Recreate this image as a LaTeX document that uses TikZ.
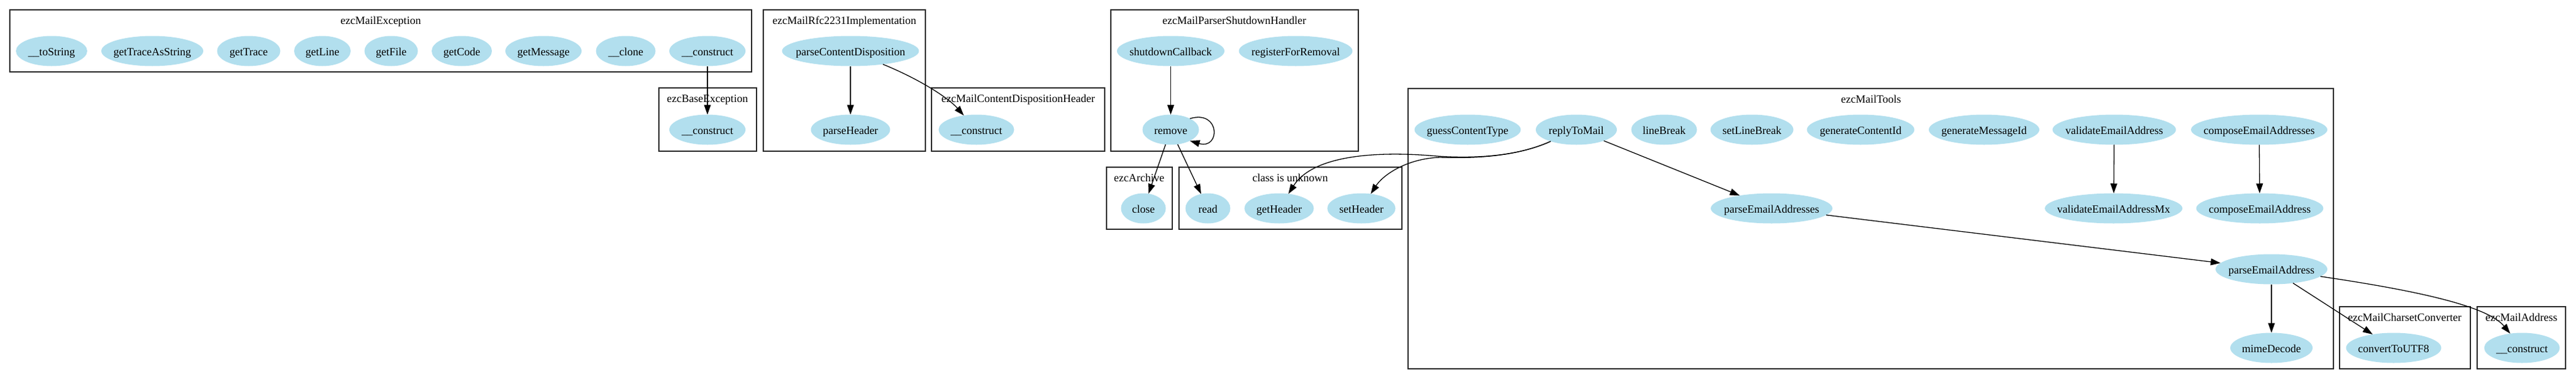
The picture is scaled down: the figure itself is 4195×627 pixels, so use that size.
\documentclass[tikz,border=0pt]{standalone}
\usepackage{fontspec}
\setmainfont{Liberation Serif}
\usetikzlibrary{arrows.meta,shapes.geometric}
\definecolor{nodeblue}{HTML}{B2DFEE}
\newcommand\nlab[1]{\makebox[0pt]{#1}}
\begin{document}
\begin{tikzpicture}[x=1pt,y=-1pt,
  fn/.style={ellipse, fill=nodeblue, draw=none, inner sep=0pt, outer sep=0pt,
    minimum height=49pt, text height=16pt, text depth=0.4pt,
    font=\fontsize{18}{21}\selectfont},
  ttl/.style={anchor=base, inner sep=0pt, font=\fontsize{18}{21}\selectfont},
  grp/.style={draw=black!85, line width=1.4pt},
  arr/.style={draw=black, line width=1.3pt, -{Triangle[length=16pt,width=11pt]}}]
\useasboundingbox (0,0) rectangle (4195,627);
\fill[white] (0,0) rectangle (4195,627);

% cluster frames
\draw[grp] (16,16) rectangle (1224,117);
\draw[grp] (1073,143) rectangle (1232,246);
\draw[grp] (1243,16) rectangle (1507,246);
\draw[grp] (1517,143) rectangle (1799,246);
\draw[grp] (1809,16) rectangle (2212,246);
\draw[grp] (1802,272) rectangle (1909,373);
\draw[grp] (1920,272) rectangle (2283,373);
\draw[grp] (2293,144) rectangle (3800,600);
\draw[grp] (3810,499) rectangle (4023,600);
\draw[grp] (4034,499) rectangle (4178,600);

% cluster titles
\node[ttl] (tEx) at (620,39) {ezcMailException};
\node[ttl] (tBase) at (1152,166) {ezcBaseException};
\node[ttl] (tRfc) at (1375,39) {ezcMailRfc2231Implementation};
\node[ttl] (tCdh) at (1658,166) {ezcMailContentDispositionHeader};
\node[ttl] (tSd) at (2010,39) {ezcMailParserShutdownHandler};
\node[ttl] (tArc) at (1855,295) {ezcArchive};
\node[ttl] (tUnk) at (2101,295) {class is unknown};
\node[ttl] (tTools) at (3047,167) {ezcMailTools};
\node[ttl] (tCc) at (3916,522) {ezcMailCharsetConverter};
\node[ttl] (tMa) at (4106,522) {ezcMailAddress};

% ezcMailException
\node[fn, minimum width=116pt] (ex1) at (84,83) {\nlab{\_\_toString}};
\node[fn, minimum width=166pt] (ex2) at (248,83) {\nlab{getTraceAsString}};
\node[fn, minimum width=103pt] (ex3) at (405,83) {\nlab{getTrace}};
\node[fn, minimum width=92pt] (ex4) at (525,83) {\nlab{getLine}};
\node[fn, minimum width=87pt] (ex5) at (637,83) {\nlab{getFile}};
\node[fn, minimum width=98pt] (ex6) at (752,83) {\nlab{getCode}};
\node[fn, minimum width=124pt] (ex7) at (885,83) {\nlab{getMessage}};
\node[fn, minimum width=97pt] (ex8) at (1019,83) {\nlab{\_\_clone}};
\node[fn, minimum width=124pt] (ex9) at (1152,83) {\nlab{\_\_construct}};
% ezcBaseException
\node[fn, minimum width=124pt] (be) at (1152,211) {\nlab{\_\_construct}};
% ezcMailRfc2231Implementation
\node[fn, minimum width=223pt] (rfc1) at (1385,83) {\nlab{parseContentDisposition}};
\node[fn, minimum width=129pt] (rfc2) at (1385,211) {\nlab{parseHeader}};
% ezcMailContentDispositionHeader
\node[fn, minimum width=123pt] (cdh) at (1590,211) {\nlab{\_\_construct}};
% ezcMailParserShutdownHandler
\node[fn, minimum width=175pt] (sd1) at (1906.5,83) {\nlab{shutdownCallback}};
\node[fn, minimum width=185pt] (sd2) at (2110,83) {\nlab{registerForRemoval}};
\node[fn, minimum width=92pt] (sd3) at (1906.5,211) {\nlab{remove}};
% ezcArchive
\node[fn, minimum width=73pt] (arc) at (1862,339) {\nlab{close}};
% class is unknown
\node[fn, minimum width=73pt] (u1) at (1967,339) {\nlab{read}};
\node[fn, minimum width=113pt] (u2) at (2083,339) {\nlab{getHeader}};
\node[fn, minimum width=111pt] (u3) at (2217,339) {\nlab{setHeader}};
% ezcMailTools
\node[fn, minimum width=173pt] (t1) at (2390,211) {\nlab{guessContentType}};
\node[fn, minimum width=132pt] (t2) at (2567,211) {\nlab{replyToMail}};
\node[fn, minimum width=107pt] (t3) at (2710,211) {\nlab{lineBreak}};
\node[fn, minimum width=135pt] (t4) at (2853,211) {\nlab{setLineBreak}};
\node[fn, minimum width=175pt] (t5) at (3030,211) {\nlab{generateContentId}};
\node[fn, minimum width=180pt] (t6) at (3231,211) {\nlab{generateMessageId}};
\node[fn, minimum width=201pt] (t7) at (3443,211) {\nlab{validateEmailAddress}};
\node[fn, minimum width=222pt] (t8) at (3679,211) {\nlab{composeEmailAddresses}};
\node[fn, minimum width=198pt] (t9) at (2885,339) {\nlab{parseEmailAddresses}};
\node[fn, minimum width=224pt] (t10) at (3442,339) {\nlab{validateEmailAddressMx}};
\node[fn, minimum width=207pt] (t11) at (3680,339) {\nlab{composeEmailAddress}};
\node[fn, minimum width=182pt] (t12) at (3699,438) {\nlab{parseEmailAddress}};
\node[fn, minimum width=134pt] (t13) at (3699,566) {\nlab{mimeDecode}};
% ezcMailCharsetConverter
\node[fn, minimum width=155pt] (cc) at (3898,566) {\nlab{convertToUTF8}};
% ezcMailAddress
\node[fn, minimum width=123pt] (ma) at (4107,566) {\nlab{\_\_construct}};

% edges
\draw[arr] (ex9) -- (be);
\draw[arr] (rfc1) -- (rfc2);
\draw[arr] (rfc1) .. controls (1500,130) and (1545,160) .. (cdh);
\draw[arr] (sd1) -- (sd3);
\draw[arr] (sd3.30) .. controls +(50,-15) and +(50,15) .. (sd3.-30);
\draw[arr] (sd3) -- (arc);
\draw[arr] (sd3) -- (u1);
\draw[arr] (t2) .. controls (2470,255) and (2400,258) .. (2340,254)
  .. controls (2250,246) and (2140,250) .. (u2);
\draw[arr] (t2) .. controls (2470,255) and (2400,258) .. (2345,256)
  .. controls (2290,258) and (2252,285) .. (u3);
\draw[arr] (t2) -- (t9);
\draw[arr] (t7) -- (t10);
\draw[arr] (t8) -- (t11);
\draw[arr] (t9) -- (t12);
\draw[arr] (t12) -- (t13);
\draw[arr] (t12) -- (cc);
\draw[arr] (t12) .. controls (3930,472) and (4050,497) .. (ma);
\end{tikzpicture}
\end{document}
